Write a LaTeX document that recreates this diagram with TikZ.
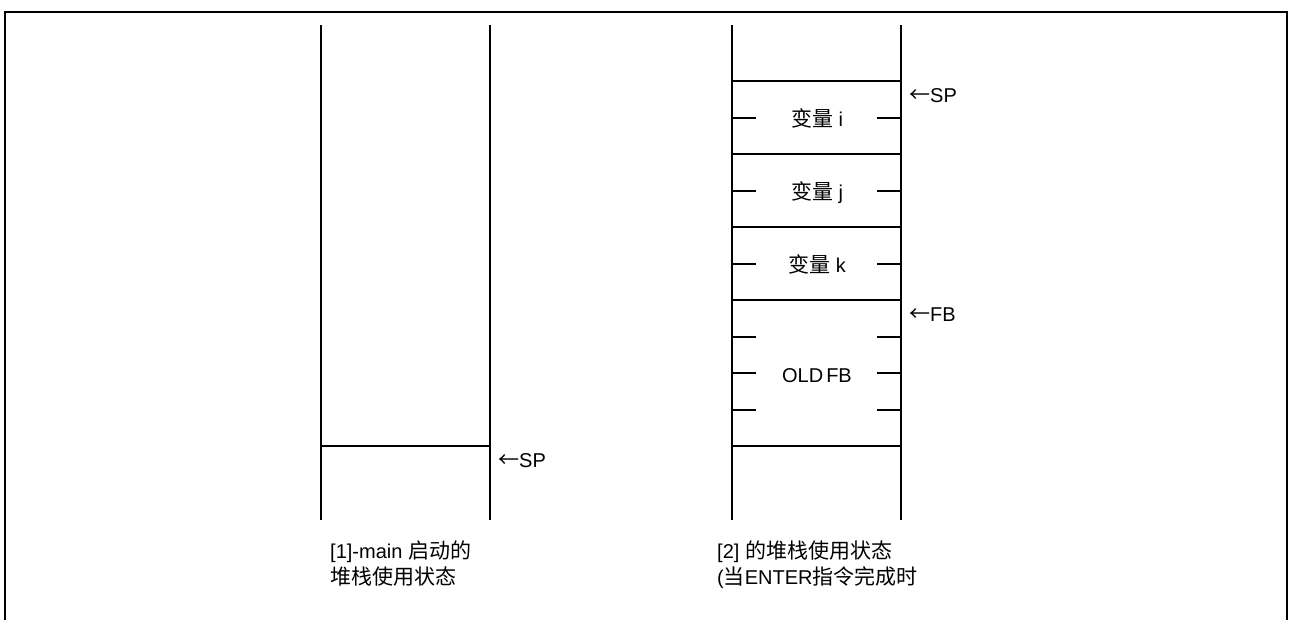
\documentclass[tikz,border=0pt]{standalone}
\usepackage{fontspec}
\setmainfont{Liberation Sans}
\newfontfamily\cjkfont{Noto Sans CJK SC}
\newcommand\zh[1]{{\cjkfont\fontsize{21}{25}\selectfont #1}}
\begin{document}
\begin{tikzpicture}[x=1pt,y=-1pt,
  frame/.style={line width=2pt},
  stackline/.style={line width=1.5pt},
  tick/.style={line width=1.5pt},
  lbl/.style={inner sep=0pt,font=\fontsize{20}{25}\selectfont},
]
\useasboundingbox (0,0) rectangle (1289,619);
% frame
\coordinate (f1) at (5,625);
\coordinate (f2) at (5,12);
\coordinate (f3) at (1287,12);
\coordinate (f4) at (1287,625);
\draw[frame] (f1) -- (f2) -- (f3) -- (f4);

% left stack
\coordinate (La) at (321,25);
\coordinate (Lb) at (321,520);
\coordinate (Ra) at (490,25);
\coordinate (Rb) at (490,520);
\draw[stackline] (La) -- (Lb);
\draw[stackline] (Ra) -- (Rb);
\coordinate (Lh1) at (321,446);
\coordinate (Rh1) at (490,446);
\draw[stackline] (Lh1) -- (Rh1);
\node[lbl,anchor=base west] (sp1) at (498,467) {\zh{←}SP};
\node[lbl,anchor=base west] (cap1a) at (330,558) {[1]-main \zh{启动的}};
\node[lbl,anchor=base west] (cap1b) at (330,584) {\zh{堆栈使用状态}};

% right stack
\coordinate (L2a) at (732,25);
\coordinate (L2b) at (732,520);
\coordinate (R2a) at (901,25);
\coordinate (R2b) at (901,520);
\draw[stackline] (L2a) -- (L2b);
\draw[stackline] (R2a) -- (R2b);
\foreach \y/\n in {81/a,154/b,227/c,300/d,446/e}{
  \coordinate (hl\n) at (732,\y);
  \coordinate (hr\n) at (901,\y);
  \draw[stackline] (hl\n) -- (hr\n);
}
\foreach \y/\n in {118/a,191/b,264/c,337/d,373/e,410/f}{
  \coordinate (tl\n) at (732,\y);
  \coordinate (tle\n) at (756,\y);
  \coordinate (tr\n) at (877,\y);
  \coordinate (tre\n) at (901,\y);
  \draw[tick] (tl\n) -- (tle\n);
  \draw[tick] (tr\n) -- (tre\n);
}
\node[lbl,anchor=base] (vi) at (817,126) {\zh{变量} i};
\node[lbl,anchor=base] (vj) at (817,199) {\zh{变量} j};
\node[lbl,anchor=base] (vk) at (817,272) {\zh{变量} k};
\node[lbl,anchor=base] (ofb) at (817,382) {OLD\hspace{0.15em}FB};
\node[lbl,anchor=base west] (sp2) at (909,102) {\zh{←}SP};
\node[lbl,anchor=base west] (fb2) at (909,321) {\zh{←}FB};
\node[lbl,anchor=base west] (cap2a) at (717,558) {[2] \zh{的堆栈使用状态}};
\node[lbl,anchor=base west] (cap2b) at (717,584) {(\zh{当}ENTER\zh{指令完成时}};
\end{tikzpicture}
\end{document}
